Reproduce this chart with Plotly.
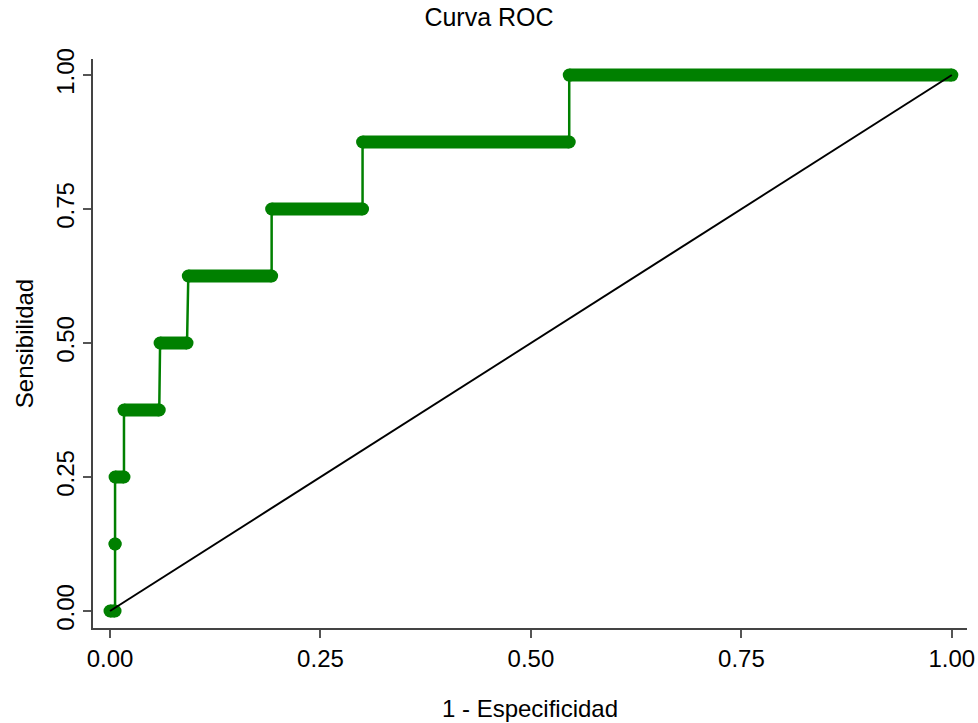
import plotly.graph_objects as go

# Step levels of the ROC curve (sensitivity) and FPR span of each level
tpr_levels = [0.0, 0.125, 0.25, 0.375, 0.5, 0.625, 0.75, 0.875, 1.0]
fpr_start = [0.0, 0.006, 0.006, 0.0166, 0.0595, 0.093, 0.192, 0.300, 0.5455]
fpr_end = [0.006, 0.006, 0.0166, 0.0585, 0.0915, 0.192, 0.300, 0.5455, 1.0]

tick_vals = [0, 0.25, 0.5, 0.75, 1.0]
tick_text = ["0.00", "0.25", "0.50", "0.75", "1.00"]

GREEN = "#008000"
FONT = "Liberation Sans, Arial, sans-serif"

# step path through the corners
step_x, step_y = [], []
for s, e, l in zip(fpr_start, fpr_end, tpr_levels):
    step_x += [s, e]
    step_y += [l, l]

# thick horizontal bands (dense points along each level)
band_x, band_y = [], []
for s, e, l in zip(fpr_start, fpr_end, tpr_levels):
    band_x += [s, e, None]
    band_y += [l, l, None]

fig = go.Figure()
fig.add_trace(go.Scatter(x=step_x, y=step_y, mode="lines+markers",
                         line=dict(color=GREEN, width=2.5),
                         marker=dict(color=GREEN, size=13, line=dict(width=0)),
                         hoverinfo="skip", showlegend=False))
fig.add_trace(go.Scatter(x=band_x, y=band_y, mode="lines",
                         line=dict(color=GREEN, width=13),
                         hoverinfo="skip", showlegend=False))
fig.add_trace(go.Scatter(x=[0, 1], y=[0, 1], mode="lines",
                         line=dict(color="black", width=2),
                         hoverinfo="skip", showlegend=False))

axis_common = dict(
    showline=True, linecolor="#444444", linewidth=1.5, mirror=False,
    showgrid=False, zeroline=False, automargin=False,
    ticks="outside", ticklen=8, tickwidth=1.5, tickcolor="#555555",
    tickvals=tick_vals, ticktext=tick_text,
    tickfont=dict(family=FONT, size=24, color="black"),
)

fig.update_layout(
    width=978, height=723,
    paper_bgcolor="white", plot_bgcolor="white",
    margin=dict(l=93, r=11, t=59, b=95, autoexpand=False),
    title=dict(text="Curva ROC", x=0.5, xanchor="center", y=1 - 17 / 723, yanchor="middle",
               automargin=False,
               font=dict(family=FONT, size=25, color="black")),
    xaxis=dict(range=[-0.0202, 1.018],
               title=dict(text="1 - Especificidad", standoff=30,
                          font=dict(family=FONT, size=24, color="black")),
               **axis_common),
    yaxis=dict(range=[-0.0317, 1.0299], tickangle=-90,
               title=dict(text="Sensibilidad", standoff=11,
                          font=dict(family=FONT, size=24, color="black")),
               **axis_common),
)

fig.write_html("out.html",
               config={"displayModeBar": False},
               post_script="document.body.style.margin='0';document.body.style.overflow='hidden';")
